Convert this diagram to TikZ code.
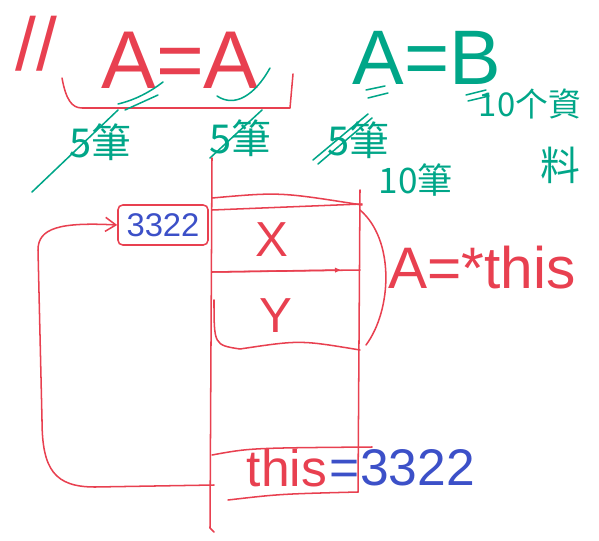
\documentclass[tikz,border=0pt]{standalone}
\usepackage{fontspec}
\setmainfont{Liberation Sans}
\newfontfamily\cjk{Noto Sans CJK TC}
\usetikzlibrary{arrows.meta, positioning}
\definecolor{inkred}{RGB}{232,64,80}
\definecolor{inkgreen}{RGB}{0,166,136}
\definecolor{inkblue}{RGB}{60,80,200}
\newcommand\hand[1]{\fontsize{#1pt}{#1pt}\selectfont}
\tikzset{
  % pen strokes
  redpen/.style={draw=inkred, line width=1.3pt, line cap=round, line join=round},
  greenpen/.style={draw=inkgreen, line width=1.3pt, line cap=round},
  % handwritten words
  redword/.style={text=inkred, inner sep=1pt},
  greenword/.style={text=inkgreen, inner sep=1pt},
  blueword/.style={text=inkblue, inner sep=1pt},
  % address cell
  addrbox/.style={draw=inkred, line width=1.3pt, rounded corners=4pt,
    minimum width=2.7cm, minimum height=1.2cm, text=inkblue},
  % pointer arrow
  ptr/.style={redpen, -{Straight Barb[length=9pt,width=12pt]}},
}
\begin{document}
\begin{tikzpicture}[x=0.03cm, y=-0.03cm]
  \useasboundingbox (0,0) rectangle (599,540);

  % heading
  \node[redword, font=\hand{64}] (slashes) at (36,44) {//};
  \node[redword, font=\hand{70}] (aeqa) at (180,60) {A=A};
  \node[greenword, font=\hand{66}] (aeqb) at (427,58) {A=B};
  \draw[redpen] (62,78) .. controls (66,100) and (72,108) .. (82,108) -- (290,108) -- (293,74);

  % record counts
  \node[greenword, font=\cjk\hand{34}] (five1) at (100,142) {5筆};
  \node[greenword, font=\cjk\hand{34}] (five2) at (240,138) {5筆};
  \node[greenword, font=\cjk\hand{34}] (five3) at (358,140) {5筆};
  \node[greenword, font=\cjk\hand{30}] (ten) at (416,180) {10筆};
  \node[greenword, font=\cjk\hand{28}] (tenitems) at (530,104) {10个資};
  \node[greenword, font=\cjk\hand{34}] (liao) at (560,165) {料};
  \draw[greenpen] (118,104) .. controls (135,100) and (150,92) .. (163,82);
  \draw[greenpen] (125,110) -- (158,95);
  \draw[greenpen] (32,192) -- (118,110);
  \draw[greenpen] (217,96) .. controls (235,108) and (255,95) .. (270,68);
  \draw[greenpen] (210,158) -- (262,110);
  \draw[greenpen] (313,160) -- (368,114);
  \draw[greenpen] (318,164) -- (372,118);
  \draw[greenpen] (366,90) -- (385,86);
  \draw[greenpen] (368,98) -- (388,93);
  \draw[greenpen] (466,95) -- (486,90);
  \draw[greenpen] (468,101) -- (489,96);

  % memory column
  \draw[redpen] (212,158) -- (210,528) -- (214,532);
  \draw[redpen] (360,190) -- (358,492);
  \draw[redpen] (212,198) .. controls (280,192) .. (362,205);
  \draw[redpen] (212,210) -- (362,204);
  \draw[redpen] (212,272) -- (360,270);
  \draw[redpen, -{Latex[length=6pt]}] (212,272) -- (342,270);
  \draw[redpen] (214,300) .. controls (214,345) .. (240,349) .. controls (300,340) .. (360,350);
  \draw[redpen] (360,210) .. controls (395,240) and (392,310) .. (366,345);
  \node[redword, font=\hand{42}] (fieldx) at (272,240) {X};
  \node[redword, font=\hand{42}] (fieldy) at (276,316) {Y};
  \node[redword, font=\hand{50}] (aptr) at (482,268) {A=*this};

  % this slot
  \draw[redpen] (212,455) .. controls (250,448) .. (372,447);
  \draw[redpen] (228,500) .. controls (280,494) .. (358,492);
  \node[redword, font=\hand{44}] (thisname) at (287,468) {this};
  \node[blueword, font=\hand{44}, right=0pt of thisname] (thisval) {=3322};
  \coordinate (thisrow) at (214,485);

  % object address
  \node[addrbox, font=\hand{28}] (addr) at (163,225) {3322};
  \draw[ptr] (thisrow) -- (95,487) .. controls (55,487) and (42,470) .. (42,420)
    -- (38,250) .. controls (38,228) and (60,222) .. (addr.west);
\end{tikzpicture}
\end{document}
